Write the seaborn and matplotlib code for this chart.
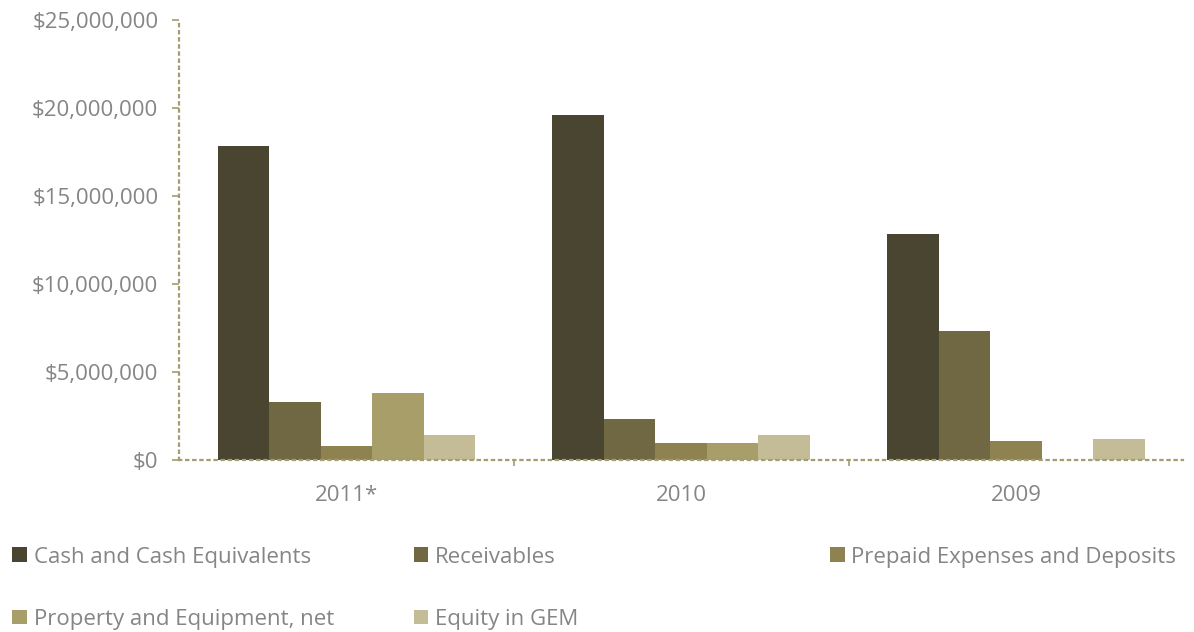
import pandas as pd
import matplotlib.pyplot as plt
import matplotlib.ticker as mticker
import seaborn as sns

# Data
years = ["2011*", "2010", "2009"]
series = ["Cash and Cash Equivalents", "Receivables", "Prepaid Expenses and Deposits",
          "Property and Equipment, net", "Equity in GEM"]
cash = [17850000, 19600000, 12850000]
receivables = [3300000, 2330000, 7330000]
prepaid = [800000, 970000, 1080000]
property_eq = [3810000, 970000, 0]
equity_gem = [1420000, 1420000, 1190000]

colors = ["#4a4530", "#6f6843", "#8e8350", "#a89e6a", "#c4bc96"]
text_color = "#858585"
dot_color = "#a39d70"

# long format for seaborn
rows = []
for name, vals in zip(series, [cash, receivables, prepaid, property_eq, equity_gem]):
    for y, v in zip(years, vals):
        rows.append({"Year": y, "Item": name, "Value": v})
df = pd.DataFrame(rows)

sns.set_style("white")
plt.rcParams["font.family"] = ["Open Sans", "DejaVu Sans"]

fig = plt.figure(figsize=(11.94, 6.32), dpi=100)
ax = fig.add_axes([0.150, 0.272, 0.841, 0.696])

sns.barplot(data=df, x="Year", y="Value", hue="Item", order=years, hue_order=series,
            palette=colors, width=0.77, saturation=1, ax=ax, edgecolor="none")

ax.set_ylim(0, 25000000)
ax.set_xlim(-0.5, 2.5)
ax.yaxis.set_major_locator(mticker.MultipleLocator(5000000))
ax.yaxis.set_major_formatter(mticker.FuncFormatter(lambda v, p: "${:,.0f}".format(v)))
ax.set_xlabel("")
ax.set_ylabel("")

# dotted axes
for s in ["top", "right"]:
    ax.spines[s].set_visible(False)
for s in ["left", "bottom"]:
    ax.spines[s].set_linestyle((0, (1, 2.2)))
    ax.spines[s].set_color(dot_color)
    ax.spines[s].set_linewidth(1.6)

ax.tick_params(axis="y", length=5, width=1.2, color=dot_color, pad=10,
               labelsize=16, labelcolor=text_color, left=True)
ax.tick_params(axis="x", which="major", length=0, pad=18, labelsize=16, labelcolor=text_color)
ax.xaxis.set_minor_locator(mticker.FixedLocator([0.5, 1.5]))
ax.tick_params(axis="x", which="minor", length=4, width=1.2, color=dot_color, bottom=True)

# legend in three columns, row-wise order like the original
handles, labels = ax.get_legend_handles_labels()
ax.get_legend().remove()
h = dict(zip(labels, handles))
cols = [(0.003, ["Cash and Cash Equivalents", "Property and Equipment, net"]),
        (0.339, ["Receivables", "Equity in GEM"]),
        (0.688, ["Prepaid Expenses and Deposits"])]
for x, names in cols:
    fig.legend([h[n] for n in names], names, loc="upper left", bbox_to_anchor=(x, 0.149),
               frameon=False, fontsize=16, labelcolor=text_color, handlelength=0.65,
               handleheight=0.65, handletextpad=0.3, labelspacing=1.85, borderaxespad=0)

plt.savefig("out.png", dpi=100)
